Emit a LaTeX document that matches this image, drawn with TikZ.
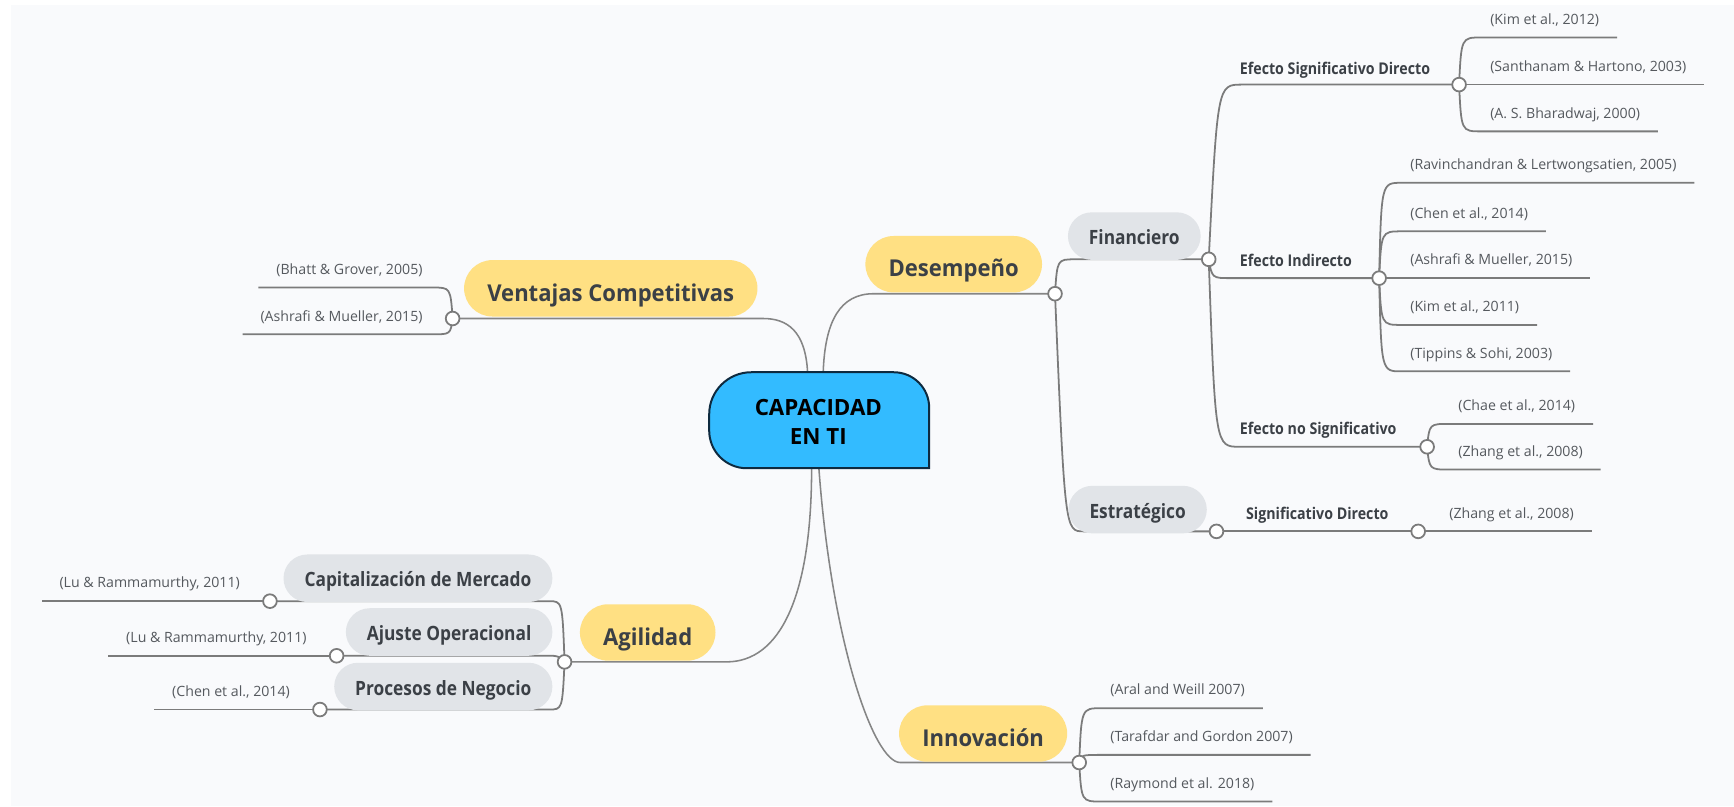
\documentclass[tikz,border=0pt]{standalone}
\usepackage{fontspec}
\setmainfont{Open Sans}
\newfontfamily\pillfont{Open Sans}[FakeStretch=0.95]
\newfontfamily\narrowfont{Open Sans}[FakeStretch=0.88]
\usetikzlibrary{calc}
\pgfdeclarelayer{backdrop}
\pgfdeclarelayer{links}
\pgfsetlayers{backdrop,links,main}

\definecolor{bgc}{HTML}{F9FAFC}
\definecolor{pilly}{HTML}{FFE083}
\definecolor{pillg}{HTML}{E1E4E8}
\definecolor{corefill}{HTML}{33BBFF}
\definecolor{coreline}{HTML}{0E2A3F}
\definecolor{linec}{HTML}{7B7B7B}
\definecolor{trunkc}{HTML}{858585}
\definecolor{inkdark}{HTML}{3B4046}
\definecolor{inkcite}{HTML}{55595E}

\tikzset{
  link/.style={draw=linec, line width=1.6pt},
  trunk/.style={draw=trunkc, line width=1.4pt},
  knob/.style={circle, draw=linec, line width=1.6pt, fill=white, minimum size=12.4pt, inner sep=0pt},
  toppill/.style={rounded corners=25.5pt, fill=pilly, minimum height=51pt, inner xsep=21pt, inner ysep=0pt,
    text height=23.5pt, text depth=0.5pt, font=\pillfont\bfseries\fontsize{21}{24}\selectfont, text=inkdark},
  subpill/.style={rounded corners=21.5pt, fill=pillg, minimum height=43pt, inner xsep=19pt, inner ysep=0pt,
    text height=16pt, text depth=0.6pt, font=\narrowfont\bfseries\fontsize{17.8}{20}\selectfont, text=inkdark},
  cite/.style={font=\fontsize{12.8}{15}\selectfont, text=inkcite, inner sep=0pt},
  tag/.style={font=\narrowfont\bfseries\fontsize{14.6}{17}\selectfont, text=inkdark, inner sep=0pt},
  coretext/.style={font=\bfseries\fontsize{20.2}{24}\selectfont, text=black, inner sep=0pt},
}

% reference leaf to the right of a knob: #1 knob, #2 line y, #3 name, #4 text
\newcommand\leafR[4]{%
  \node[cite, anchor=base west] (#3) at ($(#1 |- 0,#2)+(28,-12)$) {#4};
  \begin{pgfonlayer}{links}
    \draw[link] (#1.center) .. controls ($(#1 |- 0,#2)+(2,0)$) .. ($(#1 |- 0,#2)+(20,0)$)
      -- ($(#3.east |- 0,#2)+(16,0)$);
  \end{pgfonlayer}}
% reference leaf to the left of a knob
\newcommand\leafL[4]{%
  \node[cite, anchor=base east] (#3) at ($(#1 |- 0,#2)+(-27,-12)$) {#4};
  \begin{pgfonlayer}{links}
    \draw[link] (#1.center) .. controls ($(#1 |- 0,#2)+(-2,0)$) .. ($(#1 |- 0,#2)+(-18,0)$)
      -- ($(#3.west |- 0,#2)+(-16,0)$);
  \end{pgfonlayer}}

\begin{document}
\begin{tikzpicture}[x=1pt, y=-1pt]
\useasboundingbox (0,0) rectangle (1568,729);
\begin{pgfonlayer}{backdrop}
  \fill[white] (0,0) rectangle (1568,729);
  \fill[bgc] (10,4.5) rectangle (1568,729);
\end{pgfonlayer}

% central topic
\node[minimum width=198.9pt, minimum height=86.8pt, inner sep=0pt] (core) at (740.75,380) {};
\draw[fill=corefill, draw=coreline, line width=1.8pt]
  (840.2,423.4) -- (675.3,423.4) .. controls (656.5,423.4) and (641.3,408.2) .. (641.3,389.4)
  -- (641.3,374.6) .. controls (641.3,353.6) and (658.3,336.6) .. (679.3,336.6)
  -- (808.2,336.6) .. controls (825.9,336.6) and (840.2,350.9) .. (840.2,368.6) -- cycle;
\node[coretext, anchor=base] (core-a) at (740,376.1) {CAPACIDAD};
\node[coretext, anchor=base] (core-b) at (740,401.7) {EN TI};

% main branches
\node[toppill] (ventajas) at (552.3,260.7) {Ventajas Competitivas};
\node[toppill] (desempeno) at (862.4,238.9) {Desempeño};
\node[toppill] (agilidad) at (585.7,571.9) {Agilidad};
\node[toppill] (innovacion) at (889,663.3) {Innovación};

% sub branches
\node[subpill, anchor=west] (financiero) at (965.5,213.5) {Financiero};
\node[subpill, anchor=west] (estrategico) at (966,460.8) {Estratégico};
\node[subpill, anchor=east] (capital) at (499.7,522.9) {Capitalización de Mercado};
\node[subpill, anchor=east] (ajuste) at (499.7,571.5) {Ajuste Operacional};
\node[subpill, anchor=east] (procesos) at (499.7,620.8) {Procesos de Negocio};

% knobs
\node[knob] (k-ven) at (409.3,288) {};
\node[knob] (k-des) at (954,265.6) {};
\node[knob] (k-fin) at (1093,234.5) {};
\node[knob] (k-est) at (1100,480.5) {};
\node[knob] (k-esd) at (1319.4,76.5) {};
\node[knob] (k-ei) at (1247.1,251.5) {};
\node[knob] (k-ens) at (1290.5,404) {};
\node[knob] (k-sd) at (1282.4,480.5) {};
\node[knob] (k-agil) at (510.5,598.5) {};
\node[knob] (k-cap) at (244.1,543.6) {};
\node[knob] (k-aju) at (304.4,593) {};
\node[knob] (k-pro) at (289.3,641.6) {};
\node[knob] (k-inn) at (975.9,689.5) {};

% second level labels
\node[tag, anchor=base west] (t-esd) at (1121,67.2) {Efecto Significativo Directo};
\node[tag, anchor=base west] (t-ei) at (1121,240.6) {Efecto Indirecto};
\node[tag, anchor=base west] (t-ens) at (1121,393.3) {Efecto no Significativo};
\node[tag, anchor=base] (t-sd) at (1191.2,469.8) {Significativo Directo};

\begin{pgfonlayer}{links}
  \coordinate (ven-bend) at (690,288);
  \coordinate (des-bend) at (790,265.6);
  \coordinate (agi-bend) at (657,598.5);
  \coordinate (inn-bend) at (814,689.5);
  \draw[trunk] ($(core.north)+(-10.5,0)$) .. controls +(-2,-37) and +(22,0) .. (ven-bend) -- (k-ven.center);
  \draw[trunk] ($(core.north)+(3.65,0)$) .. controls +(1.6,-46.6) and +(-30,0) .. (des-bend) -- (k-des.center);
  \draw[trunk] ($(core.south)+(-6.85,0)$) .. controls +(0,116.6) and +(48,0) .. (agi-bend) -- (k-agil.center);
  \draw[trunk] ($(core.south)+(-0.25,0)$) .. controls +(11.5,156.6) and +(-24,0) .. (inn-bend) -- (k-inn.center);

  \draw[link] (k-des.center) .. controls ($(k-des |- k-fin)+(2,0)$) .. ($(k-des |- k-fin)+(18,0)$) -- (k-fin.center);
  \draw[link] (k-des.center) .. controls ($(k-des |- k-est)+(9,0)$) .. ($(k-des |- k-est)+(26,0)$) -- (k-est.center);

  \draw[link] (k-fin.center) .. controls ($(k-fin |- k-esd)+(8,0)$) .. ($(k-fin |- k-esd)+(30,0)$) -- (k-esd.center);
  \draw[link] (k-fin.center) .. controls ($(k-fin |- k-ei)+(3,0)$) .. ($(k-fin |- k-ei)+(20,0)$) -- (k-ei.center);
  \draw[link] (k-fin.center) .. controls ($(k-fin |- k-ens)+(6,0)$) .. ($(k-fin |- k-ens)+(28,0)$) -- (k-ens.center);
  \draw[link] (k-est.center) -- (k-sd.center);

  \draw[link] (k-agil.center) .. controls ($(k-agil |- k-cap)+(-2,0)$) .. ($(k-agil |- k-cap)+(-14,0)$) -- (k-cap.center);
  \draw[link] (k-agil.center) .. controls ($(k-agil |- k-aju)+(-6,0)$) .. ($(k-agil |- k-aju)+(-14,0)$) -- (k-aju.center);
  \draw[link] (k-agil.center) .. controls ($(k-agil |- k-pro)+(-2,0)$) .. ($(k-agil |- k-pro)+(-14,0)$) -- (k-pro.center);
\end{pgfonlayer}

% references
\leafL{k-ven}{260}{c-bhatt}{(Bhatt \& Grover, 2005)}
\leafL{k-ven}{302.3}{c-ashr2}{(Ashrafi \& Mueller, 2015)}
\leafL{k-cap}{543.6}{c-lu1}{(Lu \& Rammamurthy, 2011)}
\leafL{k-aju}{593}{c-lu2}{(Lu \& Rammamurthy, 2011)}
\leafL{k-pro}{641.6}{c-chen2}{(Chen et al., 2014)}

\leafR{k-esd}{33.9}{c-kim12}{(Kim et al., 2012)}
\leafR{k-esd}{76.5}{c-santh}{(Santhanam \& Hartono, 2003)}
\leafR{k-esd}{118.8}{c-bhar}{(A. S. Bharadwaj, 2000)}
\leafR{k-ei}{165.3}{c-ravi}{(Ravinchandran \& Lertwongsatien, 2005)}
\leafR{k-ei}{209.2}{c-chen1}{(Chen et al., 2014)}
\leafR{k-ei}{251.5}{c-ashr1}{(Ashrafi \& Mueller, 2015)}
\leafR{k-ei}{293.8}{c-kim11}{(Kim et al., 2011)}
\leafR{k-ei}{335.8}{c-tipp}{(Tippins \& Sohi, 2003)}
\leafR{k-ens}{383.3}{c-chae}{(Chae et al., 2014)}
\leafR{k-ens}{424.6}{c-zhang1}{(Zhang et al., 2008)}
\leafR{k-sd}{480.5}{c-zhang2}{(Zhang et al., 2008)}
\leafR{k-inn}{640.4}{c-aral}{(Aral and Weill 2007)}
\leafR{k-inn}{682.6}{c-taraf}{(Tarafdar and Gordon 2007)}
\leafR{k-inn}{724.8}{c-raym}{(Raymond et al. 2018)}
\end{tikzpicture}
\end{document}
